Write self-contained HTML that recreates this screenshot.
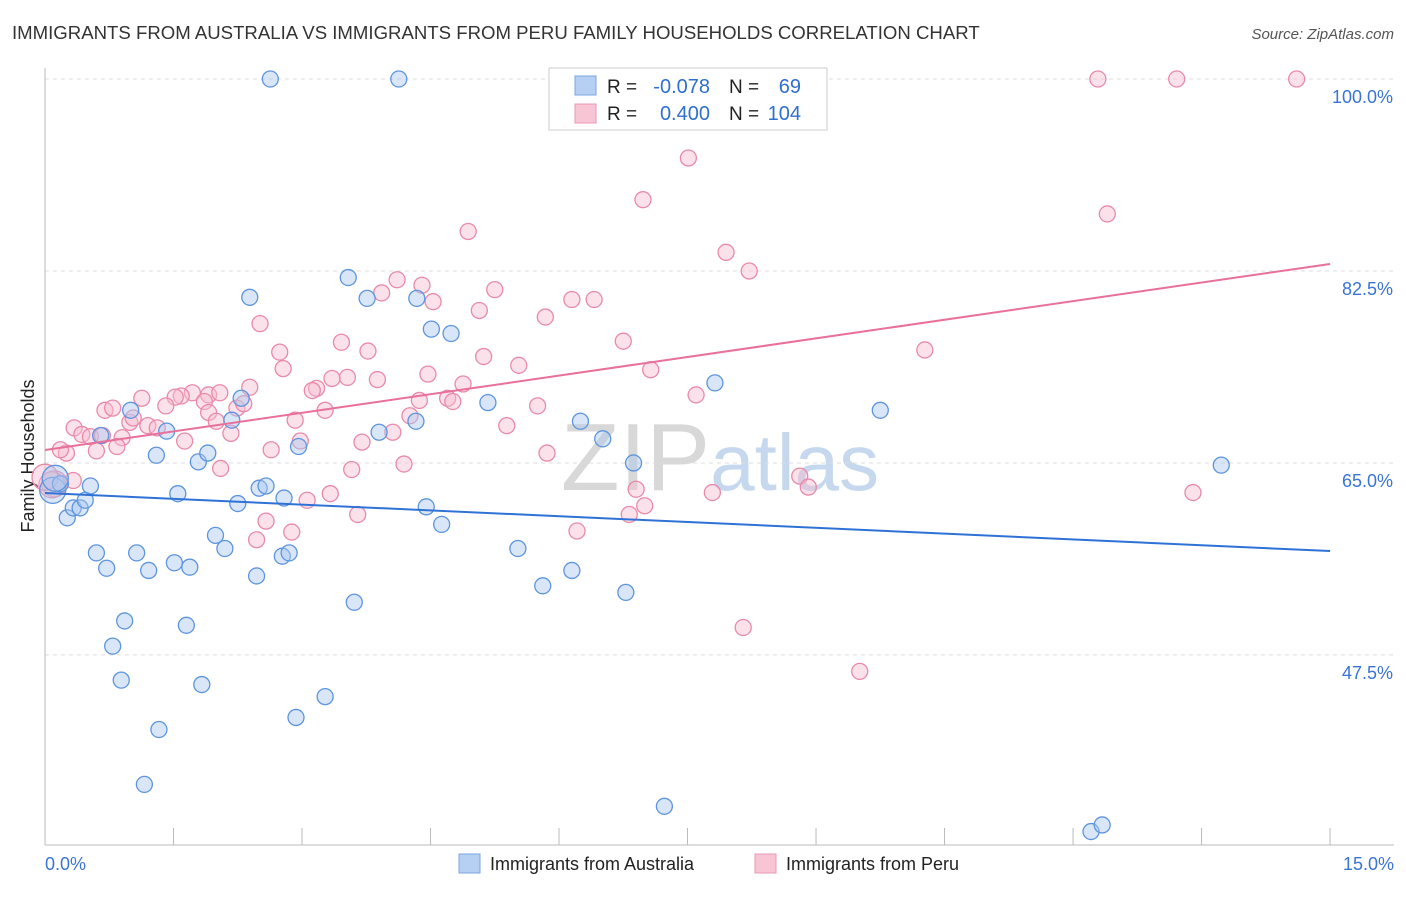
<!DOCTYPE html>
<html><head><meta charset="utf-8"><style>
body{margin:0;background:#fff;font-family:"Liberation Sans",sans-serif}
svg text{font-family:"Liberation Sans",sans-serif}
</style></head><body>
<svg id="c" width="1406" height="892" xmlns="http://www.w3.org/2000/svg">
<text x="12" y="39" font-size="18.6" fill="#333">IMMIGRANTS FROM AUSTRALIA VS IMMIGRANTS FROM PERU FAMILY HOUSEHOLDS CORRELATION CHART</text>
<text x="1394" y="39" font-size="15" fill="#555" font-style="italic" text-anchor="end">Source: ZipAtlas.com</text>
<text x="720" y="490" font-size="96" fill="#d8d8d8" text-anchor="middle" font-family="Liberation Serif">ZIP<tspan fill="#c5d8ee" font-family="Liberation Sans" font-size="80">atlas</tspan></text>
<text transform="translate(34,456) rotate(-90)" font-size="18" fill="#222" text-anchor="middle">Family Households</text>
<g id="grid"></g><g id="axes"></g><g id="pts"></g><g id="lines"></g>
<g>
<rect x="549" y="68" width="278" height="62" fill="#fff" stroke="#ccc"/>
<rect x="575" y="76" width="21" height="19" fill="#b5d0f3" stroke="#7aa6e3"/>
<rect x="575" y="104" width="21" height="19" fill="#f8c5d5" stroke="#ea97b2"/>
<text x="607" y="93" font-size="19" fill="#222">R =</text>
<text x="710" y="93" font-size="20" fill="#2f6fd0" text-anchor="end">-0.078</text>
<text x="729" y="93" font-size="19" fill="#222">N =</text>
<text x="801" y="93" font-size="20" fill="#2f6fd0" text-anchor="end">69</text>
<text x="607" y="120" font-size="19" fill="#222">R =</text>
<text x="710" y="120" font-size="20" fill="#2f6fd0" text-anchor="end">0.400</text>
<text x="729" y="120" font-size="19" fill="#222">N =</text>
<text x="801" y="120" font-size="20" fill="#2f6fd0" text-anchor="end">104</text>
</g>
<g>
<rect x="459" y="854" width="21" height="19" fill="#b5d0f3" stroke="#7aa6e3"/>
<text x="490" y="870" font-size="18" fill="#222">Immigrants from Australia</text>
<rect x="755" y="854" width="21" height="19" fill="#f8c5d5" stroke="#ea97b2"/>
<text x="786" y="870" font-size="18" fill="#222">Immigrants from Peru</text>
</g>
</svg>
<script>
const ausX=[2.63,4.13,0.09,0.18,0.12,0.26,0.33,0.41,0.47,0.53,0.60,0.72,0.65,0.79,0.89,0.93,1.00,1.07,1.16,1.21,1.30,1.33,1.42,1.51,1.55,1.65,1.69,1.79,1.83,1.90,1.99,2.10,2.18,2.25,2.29,2.39,2.47,2.50,2.58,2.79,2.77,2.85,2.93,2.96,3.27,3.54,3.61,3.76,3.90,4.34,4.33,4.51,4.45,4.63,4.74,5.17,5.52,5.81,6.15,6.25,6.51,6.78,6.87,7.23,7.82,9.75,12.21,12.34,13.73];
const ausY=[100,100,62.5,63.1,63.6,60.0,60.9,60.9,61.6,62.9,56.8,55.4,67.5,48.3,45.2,50.6,69.8,56.8,35.7,55.2,65.7,40.7,67.9,55.9,62.2,50.2,55.5,65.1,44.8,65.9,58.4,57.2,68.9,61.3,70.9,80.1,54.7,62.7,62.9,61.8,56.5,56.8,41.8,66.5,43.7,81.9,52.3,80.0,67.8,80.0,68.8,77.2,61.0,59.4,76.8,70.5,57.2,53.8,55.2,68.8,67.2,53.2,65.0,33.7,72.3,69.8,31.4,32.0,64.8];
const peruX=[12.29,13.21,14.61,7.51,6.98,12.40,4.94,7.95,8.22,4.11,4.40,3.93,5.25,4.53,6.15,6.41,5.07,5.84,2.51,6.75,3.46,2.74,3.77,10.27,5.12,2.78,5.53,4.47,7.07,3.53,3.88,3.35,4.88,3.17,3.12,2.39,7.60,1.13,1.91,1.72,1.59,1.52,2.04,0.70,0.79,2.24,2.32,1.86,1.41,3.27,4.37,4.70,4.76,5.75,1.91,0.99,1.03,0.34,0.43,0.53,0.67,1.20,1.31,0.90,0.84,0.60,0.25,0.18,2.17,2.00,2.92,1.63,2.98,4.06,4.26,5.39,3.70,0.33,0.11,2.05,2.64,3.58,4.19,5.86,6.90,7.00,6.82,7.79,8.81,8.91,13.40,3.33,3.06,2.58,2.88,2.47,3.65,6.21,8.15,9.51,0.08,0.0];
const peruY=[100,100,100,92.8,89.0,87.7,86.1,84.2,82.5,81.7,81.2,80.5,80.8,79.7,79.9,79.9,78.9,78.3,77.7,76.1,76.0,75.1,75.2,75.3,74.7,73.6,73.9,73.1,73.5,72.8,72.6,72.7,72.2,71.8,71.6,71.9,71.2,70.9,71.2,71.4,71.1,71.0,71.4,69.8,70.0,70.0,70.4,70.6,70.2,69.8,70.7,70.9,70.6,70.2,69.6,68.7,69.1,68.2,67.6,67.4,67.5,68.4,68.2,67.3,66.5,66.1,65.9,66.2,67.7,68.8,68.9,67.0,67.0,67.8,69.3,68.4,66.9,63.4,63.1,64.5,66.2,64.4,64.9,65.9,62.6,61.1,60.3,62.3,63.8,62.8,62.3,62.2,61.6,59.7,58.7,58.0,60.3,58.8,50.0,46.0,63.0,63.7];
const yTicks=[100,82.5,65,47.5];
const xTicks=[0,1.5,3,4.5,6,7.5,9,10.5,12,13.5,15];
const ausTrend=[62.26,56.97];
const peruTrend=[66.18,83.14];
const sx=v=>45+v*85.67, sy=v=>79+(100-v)*10.97;
const NS="http://www.w3.org/2000/svg";
function mk(p,t,a){const e=document.createElementNS(NS,t);for(const k in a)e.setAttribute(k,a[k]);p.appendChild(e);return e;}
const grid=document.getElementById('grid'),axes=document.getElementById('axes'),pts=document.getElementById('pts'),lines=document.getElementById('lines');
yTicks.forEach(t=>{
 const l=mk(grid,'line',{x1:45,x2:1394,y1:sy(t),y2:sy(t),stroke:'#ddd','stroke-dasharray':'4,4'});
 
 
 const tx=mk(axes,'text',{x:1393,y:sy(t)+24,'font-size':18,fill:'#3a74d4','text-anchor':'end'});
 tx.textContent=t.toFixed(1)+'%';
 
 
});
const ax=mk(axes,'line',{x1:45,x2:1394,y1:845,y2:845,stroke:'#bbb'});


const ay=mk(axes,'line',{x1:45,x2:45,y1:68,y2:845,stroke:'#bbb'});


xTicks.forEach(t=>{
 const l=mk(axes,'line',{x1:sx(t),x2:sx(t),y1:828,y2:845,stroke:'#bbb'});
 
 
});
[[0,'start',45],[15,'end',1394]].forEach(([v,a,x])=>{
 const tx=mk(axes,'text',{x:x,y:870,'font-size':18,fill:'#3a74d4','text-anchor':a});
 tx.textContent=v.toFixed(1)+'%';
 
 
});
function series(X,Y,fill,stroke,name){
 X.forEach((x,i)=>{
  const r=(x<0.15&&Math.abs(Y[i]-63)<1)?13:8;
  const c=mk(pts,'circle',{cx:sx(x),cy:sy(Y[i]),r:r,fill:fill,'fill-opacity':0.45,stroke:stroke,'stroke-width':1.3});
  
  
 });
}
series(peruX,peruY,'#f7bcd0','#e98aaa','point-peru');
series(ausX,ausY,'#a9c8f0','#5e95de','point-australia');
const l1=mk(lines,'line',{x1:sx(0),x2:sx(15),y1:sy(ausTrend[0]),y2:sy(ausTrend[1]),stroke:'#2f72d6','stroke-width':2});


const l2=mk(lines,'line',{x1:sx(0),x2:sx(15),y1:sy(peruTrend[0]),y2:sy(peruTrend[1]),stroke:'#e8709a','stroke-width':2});


</script>
</body></html>
